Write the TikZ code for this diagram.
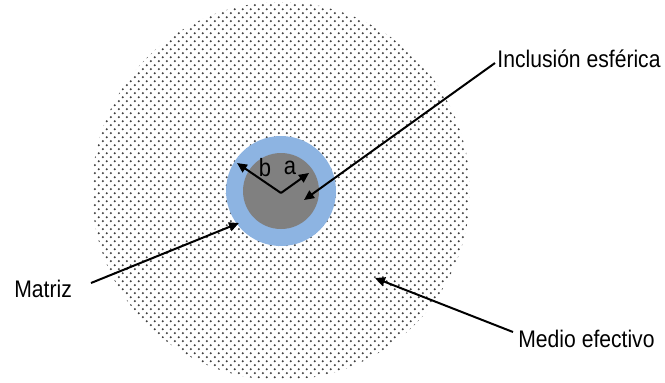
\documentclass[tikz,border=0pt]{standalone}
\usepackage{fontspec}
\setmainfont{Liberation Sans}
\newfontfamily\narrowfont[FakeStretch=0.88]{Liberation Sans}
\usepackage{xcolor}
\usetikzlibrary{arrows.meta, patterns}
\definecolor{matrizBlue}{RGB}{141,180,226}
\definecolor{inclusionGray}{RGB}{128,128,128}
\definecolor{darkText}{RGB}{0,0,0}
\pgfdeclarepatternformonly{mediodots}{\pgfqpoint{0pt}{0pt}}{\pgfqpoint{3.9pt}{3.9pt}}{\pgfqpoint{3.9pt}{3.9pt}}{
    \pgfpathcircle{\pgfqpoint{0.975pt}{0.975pt}}{0.6pt}
    \pgfpathcircle{\pgfqpoint{2.925pt}{2.925pt}}{0.6pt}
    \pgfusepath{fill}
}
\tikzset{
    labeltext/.style={
        inner sep=0pt,
        anchor=base west,
        text=darkText,
        font=\narrowfont\fontsize{12}{14}\selectfont
    },
    radiustext/.style={
        inner sep=0pt,
        text=darkText,
        font=\narrowfont\fontsize{12.5}{14}\selectfont
    },
    pointarrow/.style={-{Triangle[length=5pt, width=4.5pt]}, line width=1pt, draw=darkText},
    medioregion/.style={pattern=mediodots, pattern color=black!75},
    matrizregion/.style={fill=matrizBlue},
    inclusionregion/.style={fill=inclusionGray}
}
\begin{document}
\begin{tikzpicture}[x=0.5pt, y=-0.5pt]
        \useasboundingbox (0,0) rectangle (665,382);
        % regions
        \coordinate (centro) at (281,191);
        \path[medioregion] (centro) circle[radius=189];
        \path[matrizregion] (centro) circle[radius=55];
        \path[inclusionregion] (centro) circle[radius=38];
        % radii
        \coordinate (origen) at (281,193);
        \coordinate (bTip) at (237,163);
        \coordinate (aTip) at (309,173);
        \draw[pointarrow] (origen) -- (bTip);
        \draw[pointarrow] (origen) -- (aTip);
        \node[radiustext] (bLabel) at (265,168) {b};
        \node[radiustext] (aLabel) at (290,168) {a};
        % labels
        \node[labeltext] (inclusion) at (497,67) {Inclusi\'on esf\'erica};
        \node[labeltext] (matriz) at (14,297) {Matriz};
        \node[labeltext] (medio) at (518,347) {Medio efectivo};
        \coordinate (inclusionTail) at (495,63);
        \coordinate (inclusionTip) at (304,200);
        \coordinate (matrizTail) at (91,283);
        \coordinate (matrizTip) at (239,223);
        \coordinate (medioTail) at (513,332);
        \coordinate (medioTip) at (375,278);
        \draw[pointarrow] (inclusionTail) -- (inclusionTip);
        \draw[pointarrow] (matrizTail) -- (matrizTip);
        \draw[pointarrow] (medioTail) -- (medioTip);
    \end{tikzpicture}
\end{document}
